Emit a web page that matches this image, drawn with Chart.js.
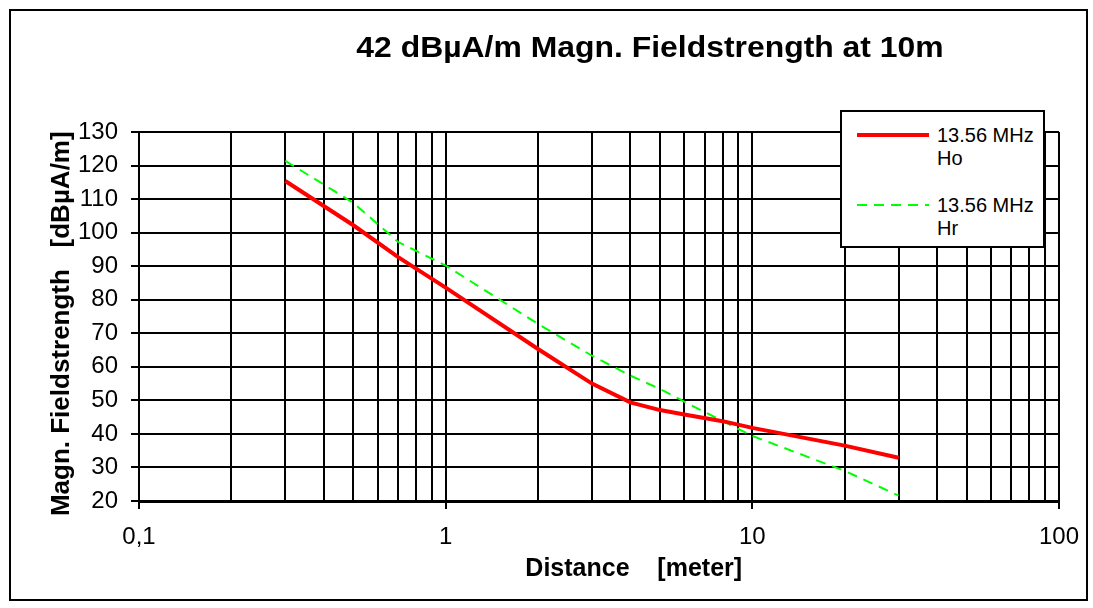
<!DOCTYPE html>
<html>
<head>
<meta charset="utf-8">
<script src="https://cdn.jsdelivr.net/npm/chart.js@4"></script>
<style>
  body { margin: 0; background: #fff; }
  #wrap { position: relative; width: 1093px; height: 608px; font-family: "Liberation Sans", Arial, sans-serif; }
  #frame { position: absolute; left: 9px; top: 9px; width: 1079px; height: 592px; border: 2px solid #000; box-sizing: border-box; pointer-events: none; }
  #title { position: absolute; left: 650px; top: 31px; font-size: 29px; line-height: 32px; font-weight: bold; white-space: nowrap;
           transform: translateX(-50%) scaleX(1.1); }
  #legend { position: absolute; left: 840px; top: 110px; width: 205px; height: 138px; border: 2px solid #000; box-sizing: border-box; background: #fff; }
  .item { position: absolute; left: 0; }
  .swatch { position: absolute; left: 15px; width: 72px; }
  .txt { position: absolute; left: 95px; font-size: 20px; line-height: 23px; white-space: nowrap; }
  canvas { position: absolute; left: 0; top: 0; }
</style>
</head>
<body>
<div id="wrap">
  <canvas id="chart" width="1093" height="608"></canvas>
  <div id="title">42 dBµA/m Magn. Fieldstrength at 10m</div>
  <div id="legend"></div>
  <div id="frame"></div>
</div>
<script>
// distances in meter
const distance = [0.3, 0.5, 0.7, 1, 2, 3, 4, 5, 6, 8, 10, 20, 30];
// 13.56 MHz Ho
const hoValues = [115.4, 102.2, 92.7, 83.6, 65.3, 55.0, 49.4, 47.1, 45.8, 43.8, 41.8, 36.5, 32.9];
// 13.56 MHz Hr
const hrValues = [121.4, 108.9, 97.2, 90.2, 72.8, 63.3, 57.4, 53.4, 49.6, 43.8, 39.4, 29.0, 21.6];

const seriesNames = ['13.56 MHz\nHo', '13.56 MHz\nHr'];
const xGrid = [0.1, 0.2, 0.3, 0.4, 0.5, 0.6, 0.7, 0.8, 0.9,
               1, 2, 3, 4, 5, 6, 7, 8, 9,
               10, 20, 30, 40, 50, 60, 70, 80, 90, 100];
const xMajor = [0.1, 1, 10, 100];
const xMajorLabels = ['0,1', '1', '10', '100'];

const toPoints = (vals) => distance.map((d, i) => ({ x: d, y: vals[i] }));

const datasets = [
  { label: seriesNames[0], data: toPoints(hoValues), borderColor: '#ff0000', borderWidth: 4, pointRadius: 0, tension: 0 },
  { label: seriesNames[1], data: toPoints(hrValues), borderColor: '#00ff00', borderWidth: 2, borderDash: [10, 7], pointRadius: 0, tension: 0 }
];

// html legend from the datasets
const legend = document.getElementById('legend');
datasets.forEach((ds, i) => {
  const item = document.createElement('div');
  item.className = 'item';
  item.style.top = (i === 0 ? 12 : 82) + 'px';
  const sw = document.createElement('div');
  sw.className = 'swatch';
  if (ds.borderDash) {
    sw.style.top = '10px';
    sw.style.height = '2px';
    sw.style.background = 'repeating-linear-gradient(to right, #00ff00 0 10px, transparent 10px 17px)';
  } else {
    sw.style.top = '9px';
    sw.style.height = '4px';
    sw.style.background = ds.borderColor;
  }
  const txt = document.createElement('div');
  txt.className = 'txt';
  txt.style.top = '0px';
  txt.innerHTML = ds.label.replace('\n', '<br>');
  item.appendChild(sw);
  item.appendChild(txt);
  legend.appendChild(item);
});

const ctx = document.getElementById('chart').getContext('2d');
new Chart(ctx, {
  type: 'line',
  data: { datasets: datasets },
  options: {
    responsive: false,
    animation: false,
    layout: { padding: { left: 0, right: 32, top: 132, bottom: 0 } },
    plugins: { legend: { display: false }, tooltip: { enabled: false } },
    scales: {
      x: {
        type: 'logarithmic',
        min: 0.1,
        max: 100,
        afterFit: (scale) => { scale.height = 107; },
        afterBuildTicks: (scale) => { scale.ticks = xGrid.map(v => ({ value: v })); },
        border: { color: '#000', width: 3 },
        grid: {
          color: '#000',
          lineWidth: 2,
          tickLength: 8,
          tickColor: (c) => (c.tick && xMajor.includes(c.tick.value)) ? '#000' : 'rgba(0,0,0,0)',
          tickWidth: 2
        },
        ticks: {
          autoSkip: false,
          maxRotation: 0,
          padding: 14,
          color: '#000',
          font: { family: 'Liberation Sans', size: 24 },
          callback: (value) => {
            const i = xMajor.indexOf(value);
            return i >= 0 ? xMajorLabels[i] : '';
          }
        },
        title: {
          display: true,
          text: '          Distance    [meter]',
          color: '#000',
          font: { family: 'Liberation Sans', size: 25, weight: 'bold' },
          padding: { top: 0, bottom: 24 }
        }
      },
      y: {
        min: 20,
        max: 130,
        afterFit: (scale) => { scale.width = 139; },
        border: { color: '#000', width: 2 },
        grid: { color: '#000', lineWidth: 2, tickLength: 8, tickColor: '#000', tickWidth: 2 },
        ticks: {
          stepSize: 10,
          padding: 13,
          color: '#000',
          font: { family: 'Liberation Sans', size: 24 }
        },
        title: {
          display: true,
          text: 'Magn. Fieldstrength   [dBµA/m]  ',
          color: '#000',
          font: { family: 'Liberation Sans', size: 26, weight: 'bold' },
          padding: { top: 46, bottom: 0 }
        }
      }
    }
  }
});
</script>
</body>
</html>
